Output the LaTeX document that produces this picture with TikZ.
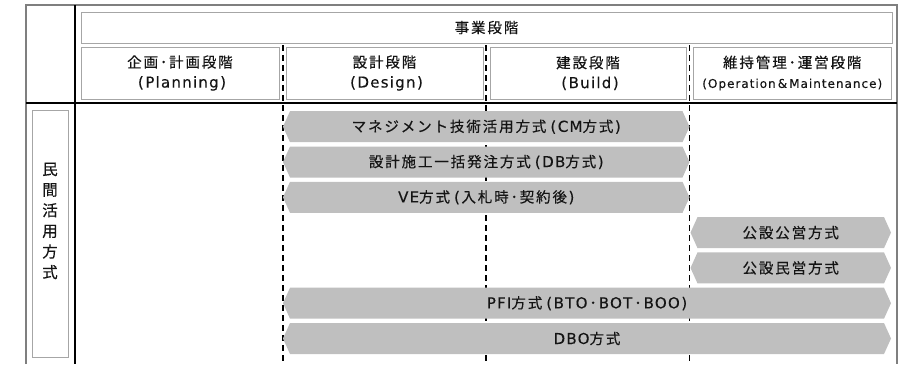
\documentclass[tikz,border=0pt]{standalone}
\usepackage{fontspec}
\setmainfont{Noto Sans CJK JP}[LetterSpace=13,FakeBold=0.4]
\newfontfamily\latf{DejaVu Sans}[LetterSpace=8,FakeBold=0.2,Scale=1.04]
\newcommand\lpar{\hspace{4pt}{\latf(}\hspace{1.5pt}}
\newcommand\rpar{\hspace{1.5pt}{\latf)}\hspace{4pt}}
\newcommand\mdot{\hspace{2pt}･\hspace{2pt}}
\definecolor{framegray}{HTML}{7F7F7F}
\definecolor{boxgray}{HTML}{A6A6A6}
\definecolor{barcol}{HTML}{BFBFBF}
\definecolor{textcol}{HTML}{141414}
\begin{document}
\begin{tikzpicture}[x=1pt,y=-1pt,
  frameline/.style={draw=framegray,line width=1.4pt},
  sepline/.style={draw=black,line width=1.4pt},
  hbox/.style={draw=boxgray,line width=0.9pt,fill=white,inner sep=0pt,align=center,
    text=textcol,font=\fontsize{14.5}{20}\selectfont},
  phaseline/.style={draw=black,line width=1.5pt,dash pattern=on 6pt off 4pt},
  bartext/.style={inner sep=0pt,text=textcol,font=\fontsize{14.5}{16}\selectfont},
  vtext/.style={inner sep=0pt,align=center,text=textcol,font=\fontsize{15.5}{20.6}\selectfont}]
\useasboundingbox (0,0) rectangle (909,364);
% outer frame and separators
\coordinate (fbl) at (26,364);
\coordinate (ftl) at (26,5);
\coordinate (ftr) at (897,5);
\coordinate (fbr) at (897,364);
\draw[frameline] (fbl) -- (ftl) -- (ftr) -- (fbr);
\coordinate (vt) at (75,5);
\coordinate (vb) at (75,364);
\draw[sepline] (vt) -- (vb);
\coordinate (hl) at (26,103);
\coordinate (hr) at (897,103);
\draw[sepline] (hl) -- (hr);
% header boxes
\node[hbox,minimum width=811,minimum height=31] (stage) at (486.5,27.5) {事業段階};
\node[hbox,minimum width=198,minimum height=52] (plan) at (180,73) {企画･計画段階\\\lpar{\latf Planning}\rpar};
\node[hbox,minimum width=197,minimum height=52] (design) at (384.5,73) {設計段階\\\lpar{\latf Design}\rpar};
\node[hbox,minimum width=196,minimum height=52] (build) at (588,73) {建設段階\\\lpar{\latf Build}\rpar};
\node[hbox,minimum width=198.5,minimum height=52] (om) at (792.25,73) {維持管理･運営段階\\{\fontsize{11.6}{20}\selectfont\latf(\hspace{1pt}Operation\,\&\,Maintenance\hspace{1pt})}};
% phase dashed lines
\foreach \i/\x in {1/283,2/486,3/689.5}{
  \coordinate (d\i t) at (\x,45);
  \coordinate (d\i b) at (\x,364);
  \draw[phaseline] (d\i t) -- (d\i b);
}
% left label
\node[draw=boxgray,line width=0.9pt,minimum width=36,minimum height=247,inner sep=0pt] (labbox) at (50,233.5) {};
\node[vtext] (labtext) at (50,221) {民\\間\\活\\用\\方\\式};
% bars
\foreach \n/\xa/\xb/\yc/\t in {
  cm/283/689.5/126.7/{マネジメント技術活用方式\lpar{\latf CM}方式\rpar},
  db/283/689.5/162/{設計施工一括発注方式\lpar{\latf DB}方式\rpar},
  ve/283/689.5/197.3/{{\latf VE}方式\lpar 入札時･契約後\rpar},
  kk/690.5/891/232.6/{公設公営方式},
  km/690.5/891/267.9/{公設民営方式},
  pfi/283/891/303.2/{{\latf PFI}方式\lpar{\latf BTO}\mdot{\latf BOT}\mdot{\latf BOO}\rpar},
  dbo/283/891/338.5/{{\latf DBO}方式}}{
  \fill[barcol] ({\xa},{\yc}) -- ({\xa+7},{\yc-15.5}) -- ({\xb-7},{\yc-15.5}) -- ({\xb},{\yc})
     -- ({\xb-7},{\yc+15.5}) -- ({\xa+7},{\yc+15.5}) -- cycle;
  \node[bartext] (\n) at ({(\xa+\xb)/2},{\yc}) {\t};
}
\end{tikzpicture}
\end{document}
